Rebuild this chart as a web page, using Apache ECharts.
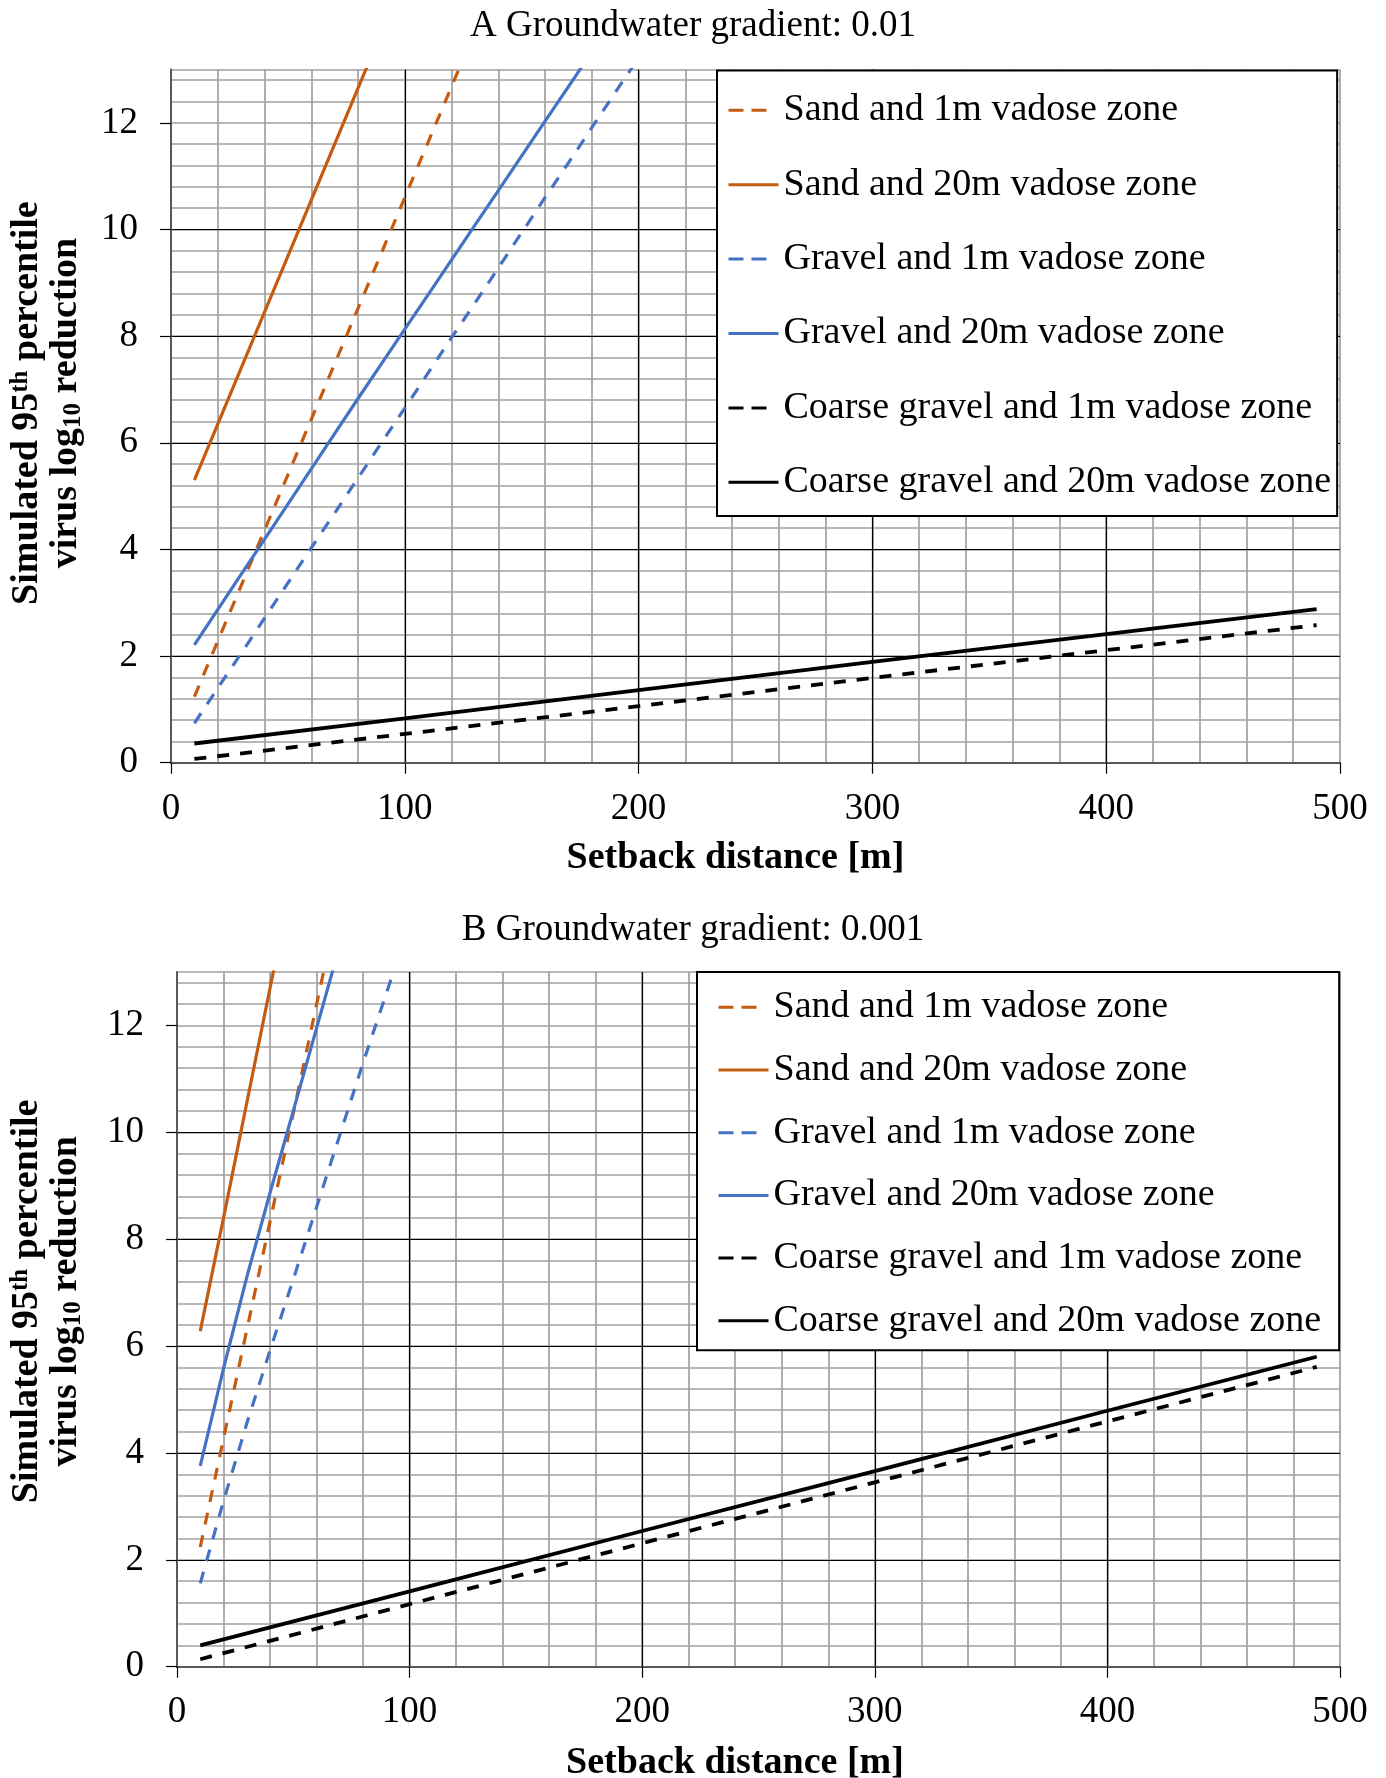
<!DOCTYPE html>
<html>
<head>
<meta charset="utf-8">
<title>Simulated virus log10 reduction vs setback distance</title>
<script src="https://cdn.jsdelivr.net/npm/echarts/dist/echarts.min.js"></script>
<style>
    html, body { margin: 0; padding: 0; background: #fff; }
    #main { width: 1386px; height: 1778px; }
</style>
</head>
<body>
<div id="main"></div>
<script>
// series names (legend order)
var names = [
    'Sand and 1m vadose zone',
    'Sand and 20m vadose zone',
    'Gravel and 1m vadose zone',
    'Gravel and 20m vadose zone',
    'Coarse gravel and 1m vadose zone',
    'Coarse gravel and 20m vadose zone'
];

// setback distances [m]
var distA = [10, 20, 30, 40, 50, 60, 70, 80, 90, 100, 110, 120, 130, 140, 150, 160, 170, 180, 190, 200];
var distB = [10, 20, 30, 40, 50, 60, 70, 80, 90, 100];
var distCoarse = [10, 100, 200, 300, 400, 490];

// A: groundwater gradient 0.01
var sand1mA = [1.24, 2.28, 3.32, 4.36, 5.40, 6.44, 7.48, 8.52, 9.56, 10.60, 11.64, 12.68, 13.72];
var sand20mA = [5.30, 6.35, 7.40, 8.45, 9.50, 10.55, 11.60, 12.65, 13.70];
var gravel1mA = [0.74, 1.40, 2.05, 2.71, 3.37, 4.03, 4.68, 5.34, 6.00, 6.65, 7.31, 7.97, 8.62, 9.28, 9.94, 10.60, 11.25, 11.91, 12.57, 13.22];
var gravel20mA = [2.21, 2.87, 3.53, 4.19, 4.85, 5.51, 6.17, 6.83, 7.48, 8.13, 8.78, 9.43, 10.08, 10.73, 11.38, 12.03, 12.68, 13.33];
var coarse1mA = [0.07, 0.54, 1.06, 1.59, 2.11, 2.58];
var coarse20mA = [0.36, 0.83, 1.36, 1.89, 2.41, 2.88];

// B: groundwater gradient 0.001
var sand1mB = [2.24, 4.27, 6.30, 8.33, 10.36, 12.39, 14.42];
var sand20mB = [6.28, 8.40, 10.55, 12.70, 14.85];
var gravel1mB = [1.56, 3.10, 4.55, 5.92, 7.25, 8.60, 9.95, 11.30, 12.60, 13.90];
var gravel20mB = [3.76, 5.58, 7.29, 8.87, 10.40, 11.95, 13.50];
var coarse1mB = [0.14, 1.17, 2.31, 3.45, 4.59, 5.61];
var coarse20mB = [0.40, 1.41, 2.54, 3.66, 4.79, 5.80];

var yTicks = [0, 2, 4, 6, 8, 10, 12];
var xTicks = [0, 100, 200, 300, 400, 500];

var serif = "'Times New Roman', 'Liberation Serif', serif";
var orange = '#C55A11';
var blue = '#4472C4';

function pairs(xs, ys) {
    var out = [];
    for (var i = 0; i < ys.length; i++) {
        out.push([xs[i], ys[i]]);
    }
    return out;
}

// light grey grid (every 20 m)
function minorX(grid) {
    return {
        type: 'value', gridIndex: grid, min: 0, max: 500, interval: 20, position: 'bottom', z: 0,
        axisLine: {show: false}, axisTick: {show: false}, axisLabel: {show: false},
        splitLine: {show: true, lineStyle: {color: '#a0a0a0', width: 1.7}}
    };
}
// light grey grid (every 0.4)
function minorY(grid) {
    return {
        type: 'value', gridIndex: grid, min: 0, max: 13, interval: 0.4, position: 'left', z: 0,
        axisLine: {show: false}, axisTick: {show: false}, axisLabel: {show: false},
        splitLine: {show: true, lineStyle: {color: '#a0a0a0', width: 1.7}}
    };
}

function majorX(grid, gap, shift, margin) {
    return {
        type: 'value', gridIndex: grid, min: 0, max: 500, interval: 100, position: 'bottom', z: 1,
        name: 'Setback distance [m]',
        nameLocation: 'middle',
        nameGap: gap,
        nameMoveOverlap: false,
        nameTextStyle: {fontFamily: serif, fontSize: 38, fontWeight: 'bold', color: '#000', padding: [0, shift, 0, 0]},
        axisLine: {show: true, lineStyle: {color: '#595959', width: 2}},
        axisTick: {show: true, length: 11, customValues: xTicks, lineStyle: {color: '#000', width: 1.2}},
        axisLabel: {fontFamily: serif, fontSize: 37, color: '#000', margin: margin, customValues: xTicks},
        splitLine: {show: true, showMinLine: false, showMaxLine: false, lineStyle: {color: '#000', width: 1.2}}
    };
}

function majorY(grid, gap, shift) {
    return {
        type: 'value', gridIndex: grid, min: 0, max: 13, interval: 2, position: 'left', z: 1,
        name: 'Simulated 95{sup|th} percentile\nvirus log{sub|10} reduction',
        nameLocation: 'middle',
        nameRotate: 90,
        nameGap: gap,
        nameMoveOverlap: false,
        nameTextStyle: {
            fontFamily: serif, fontSize: 38, fontWeight: 'bold', color: '#000', lineHeight: 39,
            padding: [0, 0, 0, shift],
            rich: {
                sup: {fontFamily: serif, fontSize: 25, fontWeight: 'bold', color: '#000', lineHeight: 25, verticalAlign: 'top'},
                sub: {fontFamily: serif, fontSize: 25, fontWeight: 'bold', color: '#000', lineHeight: 25, verticalAlign: 'bottom'}
            }
        },
        axisLine: {show: true, lineStyle: {color: '#595959', width: 2}},
        axisTick: {show: true, length: 11, customValues: yTicks, lineStyle: {color: '#000', width: 1.2}},
        axisLabel: {fontFamily: serif, fontSize: 37, color: '#000', margin: 33, customValues: yTicks},
        splitLine: {show: true, showMinLine: false, showMaxLine: false, lineStyle: {color: '#000', width: 1.2}}
    };
}

function line(name, xs, ys, axis, color, dashed) {
    var black = color === '#000';
    return {
        name: name,
        type: 'line',
        xAxisIndex: axis,
        yAxisIndex: axis,
        data: pairs(xs, ys),
        symbol: 'none',
        clip: true,
        silent: true,
        lineStyle: {
            color: color,
            width: black ? 3.8 : 3.2,
            type: dashed ? [12, 11] : 'solid'
        },
        itemStyle: {color: color},
        emphasis: {disabled: true}
    };
}

function legendData() {
    var out = [];
    for (var i = 0; i < names.length; i++) {
        out.push({
            name: names[i],
            lineStyle: {type: i % 2 === 0 ? [15, 8, 15, 60] : 'solid'}
        });
    }
    return out;
}

function legend(left, top, padding, gap) {
    return {
        orient: 'vertical',
        left: left,
        top: top,
        padding: padding,
        itemGap: gap,
        itemWidth: 50,
        itemHeight: 14,
        backgroundColor: '#fff',
        borderColor: '#000',
        borderWidth: 2,
        borderRadius: 0,
        selectedMode: false,
        data: legendData(),
        itemStyle: {opacity: 0},
        lineStyle: {width: 3},
        textStyle: {fontFamily: serif, fontSize: 38, color: '#000', lineHeight: 40}
    };
}

var chart = echarts.init(document.getElementById('main'));

var option = {
    animation: false,
    backgroundColor: '#fff',
    textStyle: {fontFamily: serif},
    title: [
        {
            text: 'A Groundwater gradient: 0.01',
            left: 'center', top: 7.5, padding: 0,
            textStyle: {fontFamily: serif, fontSize: 37, fontWeight: 'normal', color: '#000'}
        },
        {
            text: 'B Groundwater gradient: 0.001',
            left: 'center', top: 912, padding: 0,
            textStyle: {fontFamily: serif, fontSize: 37, fontWeight: 'normal', color: '#000'}
        }
    ],
    legend: [
        legend(717, 70.5, [19.8, 6, 13.8, 10], 34.4),
        legend(697, 972, [15.3, 18, 9.4, 20], 22.7)
    ],
    grid: [
        {left: 171, top: 69.5, width: 1169, height: 693.2, containLabel: false, outerBoundsMode: 'none'},
        {left: 177, top: 972, width: 1163, height: 694.7, containLabel: false, outerBoundsMode: 'none'}
    ],
    xAxis: [minorX(0), majorX(0, 76, 40, 28.5), minorX(1), majorX(1, 77, 47, 27.5)],
    yAxis: [minorY(0), majorY(0, 85, 26), minorY(1), majorY(1, 91, 36)],
    series: [
        line(names[0], distA, sand1mA, 1, orange, true),
        line(names[1], distA, sand20mA, 1, orange, false),
        line(names[2], distA, gravel1mA, 1, blue, true),
        line(names[3], distA, gravel20mA, 1, blue, false),
        line(names[4], distCoarse, coarse1mA, 1, '#000', true),
        line(names[5], distCoarse, coarse20mA, 1, '#000', false),

        line(names[0], distB, sand1mB, 3, orange, true),
        line(names[1], distB, sand20mB, 3, orange, false),
        line(names[2], distB, gravel1mB, 3, blue, true),
        line(names[3], distB, gravel20mB, 3, blue, false),
        line(names[4], distCoarse, coarse1mB, 3, '#000', true),
        line(names[5], distCoarse, coarse20mB, 3, '#000', false)
    ]
};

chart.setOption(option);
</script>
</body>
</html>
